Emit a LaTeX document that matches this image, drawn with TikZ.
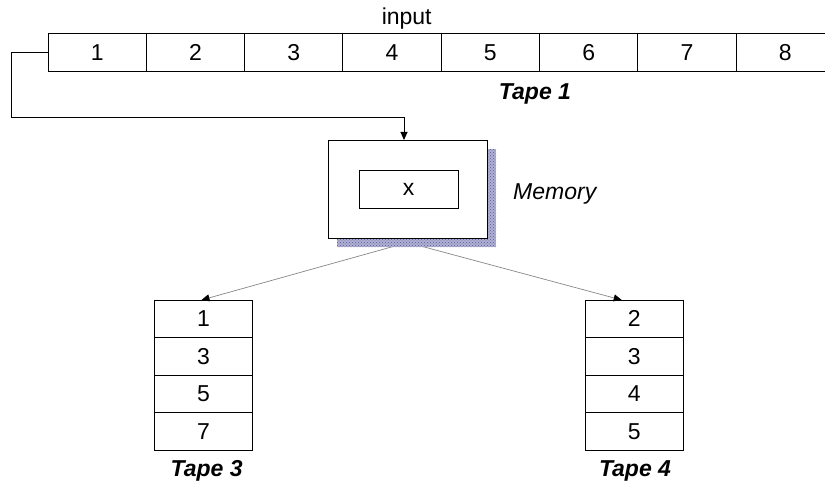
\documentclass[tikz,border=0pt]{standalone}
\usepackage{fontspec}
\setmainfont{Liberation Sans}
\usetikzlibrary{patterns,arrows.meta,backgrounds}
\definecolor{shadowfill}{RGB}{176,176,212}
\definecolor{shadowdot}{RGB}{90,90,150}
\definecolor{leadgray}{RGB}{135,135,135}
\begin{document}
\begin{tikzpicture}[x=1pt,y=-1pt,
  cell/.style={draw=black,line width=0.9pt,minimum width=98.3pt,minimum height=38pt,
    inner sep=0pt,outer sep=0pt,font=\fontsize{23}{26}\selectfont},
  vcell/.style={cell,minimum height=37.5pt},
  caption/.style={font=\fontsize{23}{26}\selectfont\bfseries\itshape,anchor=base,inner sep=0pt},
  plainlbl/.style={font=\fontsize{23}{26}\selectfont,anchor=base,inner sep=0pt},
  tip/.style={-{Triangle[length=8pt,width=7pt,color=black]}},
]
\useasboundingbox (0,0) rectangle (825,484);

% input tape
\foreach \i in {1,...,8}
  \node[cell] (t1c\i) at ({48+98.3*(\i-0.5)},52.5) {\i};
\node[plainlbl] (inlbl) at (406.7,25) {input};
\node[caption] (cap1) at (535,100) {Tape 1};

% memory box with inner cell
\node[draw=black,line width=0.9pt,minimum width=159pt,minimum height=98pt,
  inner sep=0pt,outer sep=0pt,fill=white] (mem) at (407.5,189) {};
\node[draw=black,line width=0.9pt,minimum width=99pt,minimum height=38pt,
  inner sep=0pt,outer sep=0pt,font=\fontsize{23}{26}\selectfont] (reg) at (408.5,189) {x};
\node[font=\fontsize{23}{26}\selectfont\itshape,anchor=base west,inner sep=0pt]
  (memlbl) at (513,200) {Memory};

% output tapes
\foreach \v [count=\k] in {1,3,5,7}
  \node[vcell] (t3c\k) at (203.5,{300+37.5*(\k-0.5)}) {\v};
\foreach \v [count=\k] in {2,3,4,5}
  \node[vcell] (t4c\k) at (634.2,{300+37.5*(\k-0.5)}) {\v};
\node[caption] (cap3) at (206.7,476.7) {Tape 3};
\node[caption] (cap4) at (635,476.7) {Tape 4};

% connectors
\coordinate (loop) at (11,117);
\draw[black,line width=0.9pt,tip] (t1c1.west) -| (loop) -| ([xshift=-3.5pt]mem.north);

\begin{scope}[on background layer]
  \draw[leadgray,line width=0.7pt,tip] ([yshift=-4.5pt]mem.south) -- ([xshift=-2pt]t3c1.north);
  \draw[leadgray,line width=0.7pt,tip] ([yshift=-4.5pt]mem.south) -- ([xshift=-12.5pt]t4c1.north);
  % drop shadow of the memory box
  \fill[shadowfill] ([shift={(9,9)}]mem.north west) rectangle ([shift={(9,9)}]mem.south east);
  \fill[pattern=crosshatch dots,pattern color=shadowdot]
    ([shift={(9,9)}]mem.north west) rectangle ([shift={(9,9)}]mem.south east);
\end{scope}
\end{tikzpicture}
\end{document}
